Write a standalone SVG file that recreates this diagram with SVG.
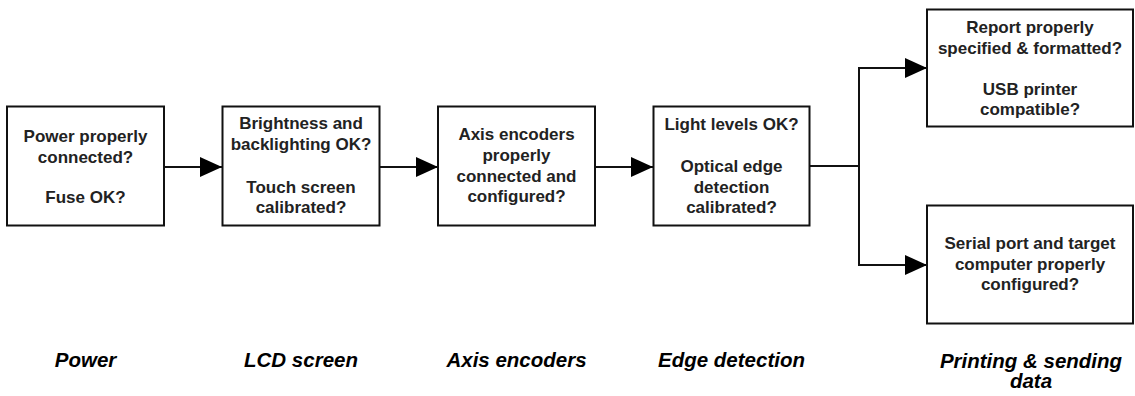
<svg xmlns="http://www.w3.org/2000/svg" width="1135" height="396" viewBox="0 0 1135 396">
<style>
.box{fill:#fff;stroke:#111;stroke-width:2}
.t{font-family:"Liberation Sans",Arial,sans-serif;font-weight:bold;font-size:17px;fill:#222;text-anchor:middle}
.lbl{font-family:"Liberation Sans",Arial,sans-serif;font-weight:bold;font-style:italic;font-size:20.5px;fill:#000;text-anchor:middle}
.c{fill:none;stroke:#111;stroke-width:2}
</style>
<defs>
<marker id="ah" markerUnits="userSpaceOnUse" markerWidth="22" markerHeight="22" viewBox="0 0 22 22" refX="22" refY="11" orient="auto">
<path d="M0,1 L22,11 L0,21 Z" fill="#000"/>
</marker>
</defs>
<rect width="1135" height="396" fill="#fff"/>
<g id="connectors">
<line class="c" x1="164" y1="167" x2="222" y2="167" marker-end="url(#ah)"/>
<line class="c" x1="380" y1="167" x2="438" y2="167" marker-end="url(#ah)"/>
<line class="c" x1="595" y1="167" x2="653" y2="167" marker-end="url(#ah)"/>
<polyline class="c" points="810,166 859,166"/>
<polyline class="c" points="927,68 859,68 859,265 927,265"/>
<line class="c" x1="859" y1="68" x2="927" y2="68" marker-end="url(#ah)"/>
<line class="c" x1="859" y1="265" x2="927" y2="265" marker-end="url(#ah)"/>
</g>
<g id="power">
<rect class="box" x="7" y="106.5" width="157" height="119"/>
<text class="t" x="85.5" y="142">Power properly</text>
<text class="t" x="85.5" y="162.5">connected?</text>
<text class="t" x="85.5" y="203">Fuse OK?</text>
<text class="lbl" x="85.5" y="367">Power</text>
</g>
<g id="lcd">
<rect class="box" x="222.5" y="106.5" width="157" height="119"/>
<text class="t" x="301" y="129">Brightness and</text>
<text class="t" x="301" y="150">backlighting OK?</text>
<text class="t" x="301" y="192.5">Touch screen</text>
<text class="t" x="301" y="213">calibrated?</text>
<text class="lbl" x="301" y="367">LCD screen</text>
</g>
<g id="axis">
<rect class="box" x="438" y="106.5" width="157" height="119"/>
<text class="t" x="516.5" y="140">Axis encoders</text>
<text class="t" x="516.5" y="161">properly</text>
<text class="t" x="516.5" y="181.5">connected and</text>
<text class="t" x="516.5" y="202">configured?</text>
<text class="lbl" x="516.5" y="367">Axis encoders</text>
</g>
<g id="edge">
<rect class="box" x="653.5" y="106.5" width="156" height="119"/>
<text class="t" x="731.5" y="130">Light levels OK?</text>
<text class="t" x="731.5" y="172">Optical edge</text>
<text class="t" x="731.5" y="192.5">detection</text>
<text class="t" x="731.5" y="213">calibrated?</text>
<text class="lbl" x="731.5" y="367">Edge detection</text>
</g>
<g id="report">
<rect class="box" x="927" y="9.5" width="206" height="117"/>
<text class="t" x="1030" y="33">Report properly</text>
<text class="t" x="1030" y="53.5">specified &amp; formatted?</text>
<text class="t" x="1030" y="94.5">USB printer</text>
<text class="t" x="1030" y="115">compatible?</text>
</g>
<g id="serial">
<rect class="box" x="927" y="205.5" width="206" height="118"/>
<text class="t" x="1030" y="249">Serial port and target</text>
<text class="t" x="1030" y="269.5">computer properly</text>
<text class="t" x="1030" y="290">configured?</text>
<text class="lbl"><tspan x="1031" y="368">Printing &amp; sending</tspan><tspan x="1031" y="387.5">data</tspan></text>
</g>
</svg>
